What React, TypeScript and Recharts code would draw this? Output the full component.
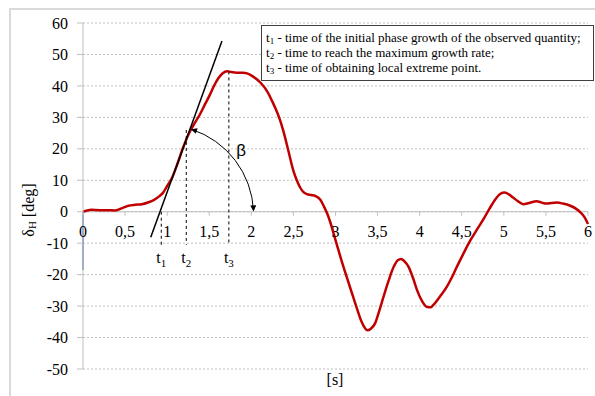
import React from 'react';
import { LineChart, Line, XAxis, YAxis, CartesianGrid, ReferenceLine, ReferenceDot } from 'recharts';

// ---- data ----
const timeS = [
  0, 0.05, 0.1, 0.2, 0.3, 0.38, 0.45, 0.54, 0.62, 0.7, 0.78, 0.84, 0.9, 0.95, 1.0, 1.06, 1.12, 1.19, 1.25, 1.31,
  1.39, 1.45, 1.51, 1.56, 1.61, 1.66, 1.71, 1.76, 1.83, 1.9, 1.95, 2.03, 2.11, 2.19, 2.25, 2.3, 2.34, 2.38, 2.44,
  2.5, 2.54, 2.58, 2.62, 2.66, 2.71, 2.76, 2.82, 2.86, 2.9, 2.94, 3.0, 3.06, 3.13, 3.21, 3.27, 3.31, 3.35, 3.38, 3.42,
  3.47, 3.52, 3.57, 3.63, 3.69, 3.74, 3.78, 3.82, 3.87, 3.92, 3.97, 4.03, 4.09, 4.13, 4.16, 4.24, 4.32, 4.38, 4.44,
  4.52, 4.6, 4.68, 4.76, 4.83, 4.9, 4.96, 5.01, 5.06, 5.11, 5.17, 5.23, 5.3, 5.39, 5.45, 5.51, 5.57, 5.63, 5.7,
  5.79, 5.86, 5.91, 5.96, 6.0,
];
const deltaH = [
  0, 0.4, 0.6, 0.5, 0.5, 0.4, 1.0, 1.9, 2.2, 2.4, 3.0, 3.7, 4.8, 6.0, 8.2, 10.9, 15.1, 20.4, 24.4, 27.4,
  31.0, 34.2, 37.3, 40.2, 42.5, 44.0, 44.7, 44.4, 44.2, 44.2, 44.0, 42.8, 41.0, 38.2, 35.0, 32.0, 29.2, 25.7, 19.4,
  13.0, 10.0, 7.7, 6.2, 5.6, 5.3, 5.0, 3.8, 1.8, -0.5, -3.5, -9.0, -14.5, -20.5, -27.1, -32.0, -35.0, -37.0, -37.7, -37.2,
  -35.5, -31.5, -27.1, -22.0, -17.6, -15.4, -15.0, -15.8, -17.6, -21.0, -25.0, -28.5, -30.3, -30.4, -29.7, -27.0, -24.0, -21.0, -17.6,
  -13.3, -9.2, -5.7, -2.3, 1.0, 4.0, 5.7, 6.1, 5.5, 4.5, 3.3, 2.4, 2.8, 3.3, 2.9, 2.6, 2.8, 2.9, 2.6,
  1.9, 0.9, -0.2, -1.8, -3.9,
];
const yTicks = [-50, -40, -30, -20, -10, 0, 10, 20, 30, 40, 50, 60];
const xTicks = [0, 0.5, 1, 1.5, 2, 2.5, 3, 3.5, 4, 4.5, 5, 5.5, 6];
const xTickLabels = ['0', '0,5', '1', '1,5', '2', '2,5', '3', '3,5', '4', '4,5', '5', '5,5', '6'];

// annotations (data coordinates)
const markerTimes = [0.93, 1.227, 1.733];
const markerTops = [0, 26, 44.6];
const markerSubs = ['1', '2', '3'];
const markerBottom = -10.5;
const tangentT = [0.805, 1.651];
const tangentY = [-8.1, 54.3];
const arcT = [1.29, 2.026];
const arcY = [26.2, 0.3];
const betaPos = { t: 1.88, y: 19.5 };
const blueSegY = [0, -18.5];
const legendSubs = ['1', '2', '3'];
const legendTexts = [
  ' - time of the initial phase growth of the observed quantity;',
  ' - time to reach the maximum growth rate;',
  ' - time of obtaining local extreme point.',
];

const data = timeS.map((t, i) => ({ t, v: deltaH[i] }));

const SERIF = "'Liberation Serif', 'Times New Roman', serif";
const SANS = "'Liberation Sans', Arial, sans-serif";
const GRAY = '#bfbfbf';

const makeXTick = (label: string) => (props: any) => {
  const { cx, cy } = props;
  return (
    <g>
      <line x1={cx} y1={cy} x2={cx} y2={cy + 4} stroke={GRAY} strokeWidth={1} />
      <text x={cx} y={cy + 25} textAnchor="middle" fontFamily={SERIF} fontSize={16} fill="#000">
        {label}
      </text>
    </g>
  );
};

const makeTLabel = (sub: string) => (props: any) => {
  const { cx, cy } = props;
  return (
    <text x={cx} y={cy + 18} textAnchor="middle" fontFamily={SERIF} fontSize={16} fill="#000">
      t<tspan fontSize={11} dy={4}>{sub}</tspan>
    </text>
  );
};

const BetaShape = (props: any) => {
  const { cx, cy } = props;
  return (
    <text x={cx} y={cy + 6} textAnchor="middle" fontFamily={SANS} fontSize={17} fill="#000">
      β
    </text>
  );
};

const ArcShape = (props: any) => {
  const { x1, y1, x2, y2 } = props;
  const chord = Math.hypot(x2 - x1, y2 - y1);
  const r = chord * 0.88;
  return (
    <g>
      <defs>
        <marker id="arrowHead" viewBox="0 0 10 10" refX="9" refY="5" markerWidth="7" markerHeight="6"
          markerUnits="userSpaceOnUse" orient="auto-start-reverse">
          <path d="M0,0 L10,5 L0,10 z" fill="#000" />
        </marker>
      </defs>
      <path d={`M${x1},${y1} A${r},${r} 0 0 1 ${x2},${y2}`} fill="none" stroke="#000" strokeWidth={1}
        markerStart="url(#arrowHead)" markerEnd="url(#arrowHead)" />
    </g>
  );
};

const YLabel = (props: any) => {
  const vb = props.viewBox || { x: 20, y: 23, width: 63, height: 346 };
  const x = vb.x + 8;
  const y = vb.y + vb.height / 2 + 14;
  return (
    <text x={x} y={y} transform={`rotate(-90 ${x} ${y})`} textAnchor="middle" dominantBaseline="central"
      fontFamily={SERIF} fontSize={16} fill="#000">
      δ<tspan fontSize={11} dy={4}>H</tspan><tspan dy={-4}> [deg]</tspan>
    </text>
  );
};

export default function App() {
  return (
    <div style={{ position: 'absolute', left: 0, top: 0, width: 595, height: 396, background: '#fff', overflow: 'hidden' }}>
      <div style={{ position: 'absolute', left: 9, top: 8, right: -5, bottom: -5, borderLeft: '2px solid #d9d9d9', borderTop: '2px solid #d9d9d9' }} />
      <LineChart width={595} height={396} data={data} margin={{ top: 23, right: 7, bottom: 27, left: 20 }}>
        <CartesianGrid vertical={false} stroke={GRAY} strokeDasharray="2 2" />
        <XAxis dataKey="t" type="number" domain={[0, 6]} ticks={xTicks} hide />
        <YAxis type="number" domain={[-50, 60]} ticks={yTicks} interval={0} width={63} tickSize={6} tickMargin={9}
          axisLine={{ stroke: GRAY }} tickLine={{ stroke: GRAY }}
          tick={{ fill: '#000', fontSize: 16, fontFamily: SERIF }}
          label={<YLabel />} />
        <ReferenceLine y={0} stroke={GRAY} strokeWidth={1} />
        <ReferenceLine segment={[{ x: 0, y: blueSegY[0] }, { x: 0, y: blueSegY[1] }]} stroke="#4f81bd" strokeWidth={1.5} />
        {xTicks.map((t, i) => (
          <ReferenceDot key={'xt' + i} x={t} y={0} r={0} shape={makeXTick(xTickLabels[i])} />
        ))}
        <Line dataKey="v" type="monotone" stroke="#c00000" strokeWidth={2.5} dot={false} isAnimationActive={false} />
        {markerTimes.map((t, i) => (
          <ReferenceLine key={'ml' + i} segment={[{ x: t, y: markerTops[i] }, { x: t, y: markerBottom }]}
            stroke="#000" strokeWidth={1} strokeDasharray="3 3" />
        ))}
        {markerTimes.map((t, i) => (
          <ReferenceDot key={'md' + i} x={t} y={markerBottom} r={0} shape={makeTLabel(markerSubs[i])} />
        ))}
        <ReferenceLine segment={[{ x: tangentT[0], y: tangentY[0] }, { x: tangentT[1], y: tangentY[1] }]}
          stroke="#000" strokeWidth={1.5} />
        <ReferenceLine segment={[{ x: arcT[0], y: arcY[0] }, { x: arcT[1], y: arcY[1] }]} shape={ArcShape} />
        <ReferenceDot x={betaPos.t} y={betaPos.y} r={0} shape={BetaShape} />
      </LineChart>
      <div style={{ position: 'absolute', left: 335, top: 370, transform: 'translateX(-50%)', fontFamily: SERIF, fontSize: 16, lineHeight: '20px' }}>
        [s]
      </div>
      <div style={{ position: 'absolute', left: 261, top: 25, width: 333, height: 56, border: '1px solid #404040', background: '#fff', padding: '4px 0 0 4px', boxSizing: 'border-box', fontFamily: SERIF, fontSize: 13, lineHeight: '15px', whiteSpace: 'nowrap' }}>
        {legendTexts.map((txt, i) => (
          <div key={i}>
            t<sub style={{ fontSize: 9, verticalAlign: '-2px', lineHeight: 0 }}>{legendSubs[i]}</sub>{txt}
          </div>
        ))}
      </div>
    </div>
  );
}
